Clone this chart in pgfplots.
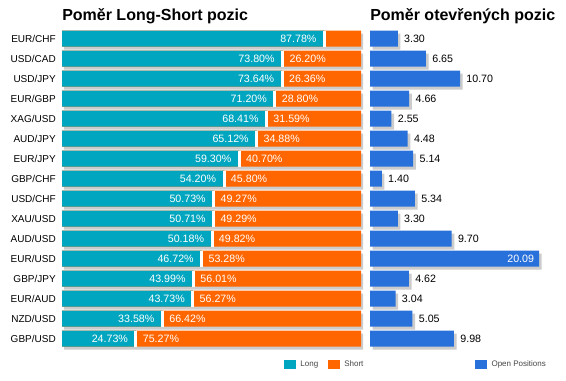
\documentclass[border=0pt]{standalone}
\usepackage{fontspec}
\setmainfont{Liberation Sans}
\usepackage{pgfplots}
\usepackage{pgfplotstable}
\pgfplotsset{compat=1.18}
\definecolor{teal1}{RGB}{0,166,192}
\definecolor{orng}{RGB}{255,102,0}
\definecolor{blu}{RGB}{40,112,218}
\definecolor{shad}{RGB}{204,204,204}
\definecolor{legtext}{RGB}{70,70,70}

\pgfplotstableread{
y long short full open
0 87.78 12.22 100 3.30
1 73.80 26.20 100 6.65
2 73.64 26.36 100 10.70
3 71.20 28.80 100 4.66
4 68.41 31.59 100 2.55
5 65.12 34.88 100 4.48
6 59.30 40.70 100 5.14
7 54.20 45.80 100 1.40
8 50.73 49.27 100 5.34
9 50.71 49.29 100 3.30
10 50.18 49.82 100 9.70
11 46.72 53.28 100 20.09
12 43.99 56.01 100 4.62
13 43.73 56.27 100 3.04
14 33.58 66.42 100 5.05
15 24.73 75.27 100 9.98
}\data

\pgfplotstableread{
y long short
1 73.80 26.20
2 73.64 26.36
3 71.20 28.80
4 68.41 31.59
5 65.12 34.88
6 59.30 40.70
7 54.20 45.80
8 50.73 49.27
9 50.71 49.29
10 50.18 49.82
11 46.72 53.28
12 43.99 56.01
13 43.73 56.27
14 33.58 66.42
15 24.73 75.27
}\shortlab

\pgfplotstableread{
y open
0 3.30
1 6.65
2 10.70
3 4.66
4 2.55
5 4.48
6 5.14
7 1.40
8 5.34
9 3.30
10 9.70
12 4.62
13 3.04
14 5.05
15 9.98
}\openlab

\begin{document}
\begin{tikzpicture}
\path[use as bounding box, fill=white] (0,0) rectangle (424.5pt,285pt);
\begin{axis}[
  at={(46.5pt,23.475pt)}, anchor=south west,
  scale only axis, width=224.25pt, height=240pt,
  xmin=0, xmax=100, ymin=-0.5, ymax=15.5, y dir=reverse,
  clip=false,
  axis line style={draw=none},
  xtick=\empty,
  ytick={0,...,15},
  yticklabels={EUR/CHF,USD/CAD,USD/JPY,EUR/GBP,XAG/USD,AUD/JPY,EUR/JPY,GBP/CHF,USD/CHF,XAU/USD,AUD/USD,EUR/USD,GBP/JPY,EUR/AUD,NZD/USD,GBP/USD},
  major tick length=0pt,
  yticklabel style={font=\fontsize{7.5}{9}\selectfont, inner sep=0pt, anchor=east},
  yticklabel shift=4.5pt,
  title={Poměr Long-Short pozic},
  every axis title/.style={at={(0,1)}, anchor=base west, inner sep=0pt, yshift=5.8pt, font=\fontsize{12}{14}\selectfont\bfseries},
  /pgf/number format/assume math mode=true,
  legend style={at={(1,0)}, anchor=north east, xshift=3pt, yshift=-8pt, draw=none, fill=none,
    font=\fontsize{6}{7}\selectfont, text=legtext, inner sep=0pt, nodes={inner sep=1pt},
    /tikz/every odd column/.append style={column sep=2.5pt},
    /tikz/every even column/.append style={column sep=6pt}},
  legend columns=2,
  legend image code/.code={\fill[#1] (0pt,-3.4pt) rectangle (9pt,3.4pt);},
]
\addplot[xbar, bar width=12pt, fill=shad, draw=none, xshift=1.5pt, yshift=-2.25pt, forget plot] table[x=full,y=y]{\data};
\addplot[xbar, bar width=12pt, fill=orng, draw=none, forget plot] table[x=full,y=y]{\data};
\addplot[xbar, bar width=12pt, fill=teal1, draw=none, forget plot] table[x=long,y=y]{\data};
\addplot[only marks, mark=|, mark size=6pt, mark options={draw=white, line width=2.25pt}, forget plot] table[x=long,y=y]{\data};
\addplot[draw=none, forget plot, point meta=x,
  nodes near coords={\pgfmathprintnumber[fixed,zerofill,precision=2]{\pgfplotspointmeta}\%},
  nodes near coords style={anchor=east, xshift=-5.8pt, inner sep=0pt, text=white, font=\fontsize{8}{9}\selectfont}]
  table[x=long,y=y]{\data};
\addplot[draw=none, forget plot, point meta=\thisrow{short},
  nodes near coords={\pgfmathprintnumber[fixed,zerofill,precision=2]{\pgfplotspointmeta}\%},
  nodes near coords style={anchor=west, xshift=5pt, inner sep=0pt, text=white, font=\fontsize{8}{9}\selectfont}]
  table[x=long,y=y]{\shortlab};
\addlegendimage{fill=teal1, draw=none}
\addlegendentry{Long}
\addlegendimage{fill=orng, draw=none}
\addlegendentry{Short}
\end{axis}

\begin{axis}[
  at={(277.5pt,23.475pt)}, anchor=south west,
  scale only axis, width=138.8pt, height=240pt,
  xmin=0, xmax=22, ymin=-0.5, ymax=15.5, y dir=reverse,
  clip=false,
  axis line style={draw=none},
  xtick=\empty, ytick=\empty,
  major tick length=0pt,
  title={Poměr otevřených pozic},
  every axis title/.style={at={(0,1)}, anchor=base west, inner sep=0pt, yshift=5.8pt, font=\fontsize{12}{14}\selectfont\bfseries},
  /pgf/number format/assume math mode=true,
  legend style={at={(1,0)}, anchor=north east, xshift=-5.75pt, yshift=-8pt, draw=none, fill=none,
    font=\fontsize{6}{7}\selectfont, text=legtext, inner sep=0pt, nodes={inner sep=1pt},
    /tikz/every odd column/.append style={column sep=2.5pt}},
  legend image code/.code={\fill[#1] (0pt,-3.4pt) rectangle (9pt,3.4pt);},
]
\addplot[xbar, bar width=12pt, fill=shad, draw=none, xshift=2pt, yshift=-2.25pt, forget plot] table[x=open,y=y]{\data};
\addplot[xbar, bar width=12pt, fill=blu, draw=none, forget plot] table[x=open,y=y]{\data};
\addplot[draw=none, forget plot, point meta=x,
  nodes near coords={\pgfmathprintnumber[fixed,zerofill,precision=2]{\pgfplotspointmeta}},
  nodes near coords style={anchor=west, xshift=4.6pt, inner sep=0pt, text=black, font=\fontsize{8}{9}\selectfont}]
  table[x=open,y=y]{\openlab};
\addplot[draw=none, forget plot, point meta=x,
  nodes near coords={\pgfmathprintnumber[fixed,zerofill,precision=2]{\pgfplotspointmeta}},
  nodes near coords style={anchor=east, xshift=-3.5pt, inner sep=0pt, text=white, font=\fontsize{8}{9}\selectfont}]
  coordinates {(20.09,11)};
\addlegendimage{fill=blu, draw=none}
\addlegendentry{Open Positions}
\end{axis}
\end{tikzpicture}
\end{document}
